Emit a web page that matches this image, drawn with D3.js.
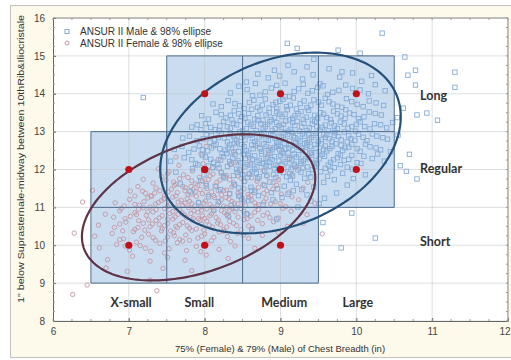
<!DOCTYPE html>
<html>
<head>
<meta charset="utf-8">
<script src="https://cdn.jsdelivr.net/npm/d3@7"></script>
<style>
  body { margin: 0; background: #fff; }
  svg { display: block; }
  .tick text { font-family: "Liberation Sans", Arial, sans-serif; font-size: 10px; fill: #444; }
  .axis path, .axis line { stroke: #666; }
</style>
</head>
<body>
<div id="chart"></div>
<script>
// axis ranges and tick values
const xTicks = [6, 7, 8, 9, 10, 11, 12];
const yTicks = [8, 9, 10, 11, 12, 13, 14, 15, 16];

// size grid (box edges) and red target points
const femaleSizeEdges = [6.5, 7.5, 8.5, 9.5];
const femaleLengthEdges = [9, 11, 13];
const maleSizeEdges = [7.5, 8.5, 9.5, 10.5];
const maleLengthEdges = [11, 13, 15];
const femaleTargets = [[7, 10], [8, 10], [9, 10], [7, 12], [8, 12], [9, 12]];
const maleTargets = [[8, 12], [9, 12], [10, 12], [8, 14], [9, 14], [10, 14]];

// size labels (column / row)
const sizeLabels = [
  { text: 'X-small', x: 7.03, y: 8.45 },
  { text: 'Small', x: 7.93, y: 8.45 },
  { text: 'Medium', x: 9.05, y: 8.45 },
  { text: 'Large', x: 10.02, y: 8.45 }
];
const lengthLabels = [
  { text: 'Long', x: 10.84, y: 13.93 },
  { text: 'Regular', x: 10.84, y: 12.0 },
  { text: 'Short', x: 10.84, y: 10.06 }
];

// 98% ellipses (mean, sd, correlation)
const maleEllipse = { mx: 9.0, my: 12.7, sx: 0.567, sy: 0.853, r: 0.29, level: 0.98 };
const femaleEllipse = { mx: 7.92, my: 11.0, sx: 0.55, sy: 0.69, r: 0.40, level: 0.98 };

// ANSUR II male sample (chest breadth, torso length), estimated from the scatter
const malePoints = [
  [8.62,10.41],[8.31,10.78],[8.95,10.69],[8.55,10.83],
  [7.92,11.12],[8.41,10.98],[8.77,11.07],[9.23,11.01],[8.58,11.18],[9.51,11.10],[8.12,10.94],
  [7.81,11.41],[8.05,11.28],[8.33,11.36],[8.49,11.22],[8.62,11.45],[8.71,11.31],[8.88,11.39],[9.02,11.26],[9.17,11.44],[9.35,11.33],[9.58,11.24],[8.21,11.47],[9.74,11.38],[8.96,11.49],
  [7.68,11.62],[7.95,11.71],[8.14,11.55],[8.27,11.78],[8.39,11.60],[8.52,11.69],[8.61,11.53],[8.70,11.76],[8.79,11.58],[8.86,11.67],[8.94,11.79],[9.05,11.56],[9.13,11.72],[9.21,11.61],[9.32,11.77],[9.44,11.54],[9.57,11.66],[9.71,11.73],[9.88,11.59],[8.45,11.51],[8.02,11.57],[9.96,11.76],
  [7.62,11.93],[7.84,12.02],[7.99,11.86],[8.11,12.05],[8.22,11.91],[8.30,12.08],[8.38,11.84],[8.46,11.98],[8.53,12.07],[8.59,11.88],[8.66,12.01],[8.72,11.81],[8.79,11.95],[8.85,12.09],[8.91,11.87],[8.97,12.03],[9.04,11.92],[9.10,12.06],[9.16,11.83],[9.23,11.99],[9.30,12.04],[9.37,11.89],[9.45,12.08],[9.53,11.94],[9.62,11.82],[9.71,12.05],[9.82,11.90],[9.95,12.01],[10.12,11.86],[8.03,11.97],[8.63,11.94],[9.19,12.09],
  [7.55,12.22],[7.73,12.31],[7.88,12.16],[7.97,12.38],[8.08,12.27],[8.17,12.13],[8.25,12.34],[8.33,12.21],[8.40,12.39],[8.47,12.18],[8.54,12.29],[8.60,12.12],[8.66,12.36],[8.72,12.24],[8.78,12.15],[8.83,12.33],[8.89,12.26],[8.94,12.11],[9.00,12.37],[9.06,12.20],[9.12,12.30],[9.18,12.14],[9.24,12.39],[9.30,12.23],[9.37,12.32],[9.44,12.17],[9.51,12.28],[9.58,12.35],[9.66,12.19],[9.75,12.31],[9.84,12.24],[9.94,12.37],[10.06,12.16],[10.21,12.29],[8.12,12.19],[8.51,12.40],[8.86,12.19],[9.09,12.27],[9.41,12.38],[9.63,12.12],[10.37,12.22],
  [7.60,12.53],[7.79,12.45],[7.93,12.62],[8.04,12.49],[8.15,12.66],[8.23,12.42],[8.31,12.57],[8.39,12.68],[8.45,12.47],[8.52,12.60],[8.58,12.43],[8.64,12.55],[8.70,12.69],[8.75,12.48],[8.81,12.61],[8.86,12.44],[8.92,12.58],[8.97,12.67],[9.02,12.46],[9.07,12.54],[9.13,12.65],[9.18,12.41],[9.24,12.59],[9.29,12.50],[9.35,12.64],[9.41,12.45],[9.47,12.56],[9.54,12.68],[9.61,12.49],[9.68,12.61],[9.76,12.42],[9.85,12.57],[9.94,12.66],[10.05,12.48],[10.18,12.60],[10.32,12.52],[8.09,12.57],[8.35,12.46],[8.67,12.63],[8.89,12.52],[9.10,12.44],[9.32,12.68],[9.57,12.53],[9.80,12.64],[7.86,12.54],[9.00,12.61],[10.45,12.47],
  [7.71,12.83],[7.90,12.76],[8.02,12.92],[8.13,12.79],[8.22,12.96],[8.30,12.73],[8.38,12.88],[8.46,12.99],[8.53,12.78],[8.60,12.91],[8.66,12.74],[8.72,12.86],[8.78,12.98],[8.84,12.77],[8.90,12.90],[8.95,12.72],[9.01,12.85],[9.06,12.97],[9.12,12.75],[9.17,12.89],[9.23,12.80],[9.29,12.94],[9.35,12.71],[9.41,12.84],[9.47,12.96],[9.54,12.79],[9.61,12.92],[9.68,12.74],[9.76,12.87],[9.84,12.99],[9.93,12.81],[10.03,12.93],[10.14,12.76],[10.27,12.88],[10.41,12.80],[8.18,12.84],[8.42,12.76],[8.69,12.95],[8.93,12.82],[9.15,12.98],[9.38,12.78],[9.59,12.85],[9.88,12.73],[8.07,12.72],[9.20,12.71],[9.72,12.97],[10.55,12.91],
  [7.83,13.12],[8.01,13.21],[8.14,13.05],[8.25,13.27],[8.34,13.09],[8.42,13.18],[8.50,13.02],[8.57,13.25],[8.64,13.14],[8.70,13.29],[8.77,13.07],[8.83,13.19],[8.89,13.03],[8.95,13.24],[9.01,13.11],[9.07,13.28],[9.13,13.06],[9.19,13.16],[9.25,13.01],[9.31,13.22],[9.38,13.10],[9.45,13.27],[9.52,13.04],[9.59,13.17],[9.67,13.23],[9.75,13.08],[9.84,13.20],[9.94,13.13],[10.05,13.26],[10.18,13.07],[10.32,13.18],[8.20,13.15],[8.47,13.29],[8.74,13.21],[8.98,13.16],[9.22,13.27],[9.48,13.13],[9.71,13.02],[9.99,13.01],[7.95,13.05],[10.48,13.24],
  [7.96,13.42],[8.15,13.51],[8.28,13.36],[8.39,13.55],[8.49,13.39],[8.58,13.48],[8.66,13.33],[8.73,13.57],[8.81,13.44],[8.88,13.31],[8.95,13.53],[9.02,13.40],[9.09,13.58],[9.16,13.35],[9.23,13.47],[9.30,13.32],[9.37,13.56],[9.45,13.43],[9.53,13.50],[9.61,13.37],[9.70,13.54],[9.80,13.41],[9.91,13.49],[10.03,13.34],[10.17,13.52],[10.33,13.44],[8.62,13.59],[9.06,13.46],[9.42,13.31],[9.86,13.58],[8.34,13.43],[10.54,13.37],
  [8.11,13.73],[8.31,13.82],[8.46,13.68],[8.59,13.77],[8.70,13.64],[8.80,13.86],[8.90,13.71],[8.99,13.80],[9.08,13.66],[9.17,13.89],[9.26,13.74],[9.35,13.63],[9.44,13.84],[9.54,13.70],[9.64,13.79],[9.75,13.67],[9.87,13.87],[10.01,13.72],[10.17,13.81],[10.36,13.69],[8.95,13.61],[9.59,13.88],
  [8.34,14.02],[8.56,14.11],[8.73,13.96],[8.88,14.15],[9.00,14.04],[9.12,13.93],[9.24,14.13],[9.36,14.01],[9.49,14.17],[9.62,13.98],[9.77,14.09],[9.95,14.14],[10.16,14.00],[10.38,14.08],
  [8.55,14.31],[8.84,14.42],[9.06,14.28],[9.29,14.39],[9.52,14.26],[9.78,14.44],[10.07,14.33],
  [8.92,14.62],[9.35,14.71],[9.81,14.58],[9.44,14.91],
  // denser core
  [8.25,11.83],[8.43,11.92],[8.57,11.79],[8.68,11.90],[8.82,11.85],[8.99,11.96],[9.08,11.81],[9.27,11.93],[9.40,11.80],[9.66,11.97],[9.12,11.89],[8.50,11.86],
  [7.91,12.12],[8.19,12.04],[8.35,12.15],[8.42,12.01],[8.56,12.13],[8.69,12.06],[8.76,12.17],[8.92,12.02],[9.02,12.14],[9.14,12.01],[9.27,12.16],[9.35,12.07],[9.48,12.15],[9.59,12.03],[9.79,12.13],[9.88,12.06],[10.01,12.18],[8.05,12.09],[8.81,12.10],[9.42,12.00],
  [7.83,12.26],[8.01,12.33],[8.21,12.25],[8.37,12.30],[8.44,12.23],[8.57,12.37],[8.63,12.27],[8.75,12.41],[8.81,12.29],[8.92,12.34],[8.98,12.22],[9.04,12.42],[9.15,12.25],[9.21,12.33],[9.33,12.28],[9.39,12.43],[9.47,12.24],[9.55,12.40],[9.70,12.26],[9.79,12.38],[9.90,12.27],[10.10,12.35],[10.28,12.41],[8.29,12.42],[8.69,12.20],[9.27,12.21],
  [7.70,12.61],[7.97,12.52],[8.12,12.63],[8.27,12.51],[8.41,12.59],[8.49,12.66],[8.55,12.50],[8.62,12.65],[8.73,12.55],[8.78,12.67],[8.84,12.51],[8.95,12.62],[9.05,12.69],[9.11,12.57],[9.16,12.51],[9.21,12.64],[9.27,12.57],[9.33,12.47],[9.39,12.61],[9.45,12.66],[9.51,12.47],[9.59,12.62],[9.65,12.55],[9.73,12.68],[9.82,12.50],[9.90,12.59],[10.01,12.55],[10.12,12.67],[10.26,12.57],[8.20,12.55],[8.33,12.65],[8.99,12.52],
  [7.80,12.88],[7.98,12.81],[8.09,12.90],[8.26,12.83],[8.34,12.93],[8.49,12.85],[8.56,12.94],[8.63,12.82],[8.75,12.91],[8.81,12.80],[8.87,12.94],[8.98,12.88],[9.04,12.79],[9.09,12.92],[9.19,12.84],[9.26,12.75],[9.32,12.88],[9.44,12.90],[9.50,12.74],[9.57,12.93],[9.64,12.81],[9.71,12.90],[9.80,12.78],[9.90,12.89],[9.98,12.77],[10.09,12.85],[10.21,12.94],[10.35,12.84],[8.40,12.80],[9.37,12.94],
  [7.90,13.18],[8.08,13.11],[8.19,13.02],[8.30,13.13],[8.38,13.22],[8.55,13.08],[8.61,13.19],[8.68,13.03],[8.80,13.13],[8.86,13.26],[8.93,13.08],[9.04,13.19],[9.10,13.01],[9.16,13.24],[9.28,13.12],[9.35,13.03],[9.42,13.20],[9.55,13.11],[9.63,13.02],[9.71,13.15],[9.79,13.25],[9.89,13.09],[10.00,13.19],[10.11,13.13],[10.24,13.21],[10.40,13.10],
  [8.05,13.33],[8.22,13.45],[8.36,13.31],[8.45,13.47],[8.53,13.35],[8.70,13.42],[8.77,13.30],[8.85,13.50],[8.92,13.37],[8.99,13.46],[9.12,13.31],[9.19,13.42],[9.27,13.53],[9.34,13.38],[9.49,13.36],[9.57,13.46],[9.66,13.32],[9.75,13.47],[9.85,13.35],[9.97,13.45],[10.10,13.39],[10.25,13.48],
  [8.22,13.66],[8.40,13.74],[8.52,13.61],[8.65,13.83],[8.76,13.70],[8.85,13.62],[8.94,13.77],[9.03,13.85],[9.13,13.70],[9.21,13.60],[9.31,13.81],[9.40,13.70],[9.50,13.78],[9.69,13.73],[9.81,13.64],[9.94,13.79],[10.09,13.66],[10.26,13.76],
  [8.45,14.20],[8.63,13.95],[8.80,14.05],[8.95,14.22],[9.06,13.92],[9.18,14.06],[9.30,14.25],[9.42,14.08],[9.56,14.21],[9.69,14.04],[9.86,14.23],[10.05,14.10],[10.25,14.24],[8.67,14.27],
  [8.70,14.52],[8.99,14.47],[9.18,14.58],[9.43,14.50],[9.64,14.66],[9.95,14.55],[10.20,14.48],[9.10,14.75],
  [8.18,11.15],[8.45,11.30],[8.90,11.20],[9.10,11.35],[9.40,11.17],[8.66,11.40],[9.28,11.47],[8.35,11.05],
  // scattered outliers
  [10.34,15.60],[9.09,15.33],[9.22,15.20],[9.76,15.15],[10.05,15.07],[10.64,14.97],[10.78,14.62],[11.30,14.57],
  [11.30,14.17],[10.78,14.23],[10.68,14.49],[10.80,13.44],[10.93,13.49],[11.07,13.30],[10.62,13.62],[7.19,13.90],
  [10.25,10.19],[9.80,9.93],[10.80,11.75],[9.94,10.85],[9.56,10.60],[10.58,12.10],[10.70,12.40],[10.66,11.95]
];

// ANSUR II female sample, estimated from the scatter
const femalePoints = [
  [7.28,9.08],[6.98,9.31],[7.45,9.39],[7.83,9.33],
  [6.72,9.62],[7.05,9.71],[7.28,9.58],[7.51,9.68],[7.74,9.60],[8.02,9.74],[8.31,9.65],
  [6.61,9.93],[6.84,10.02],[7.01,9.87],[7.15,9.99],[7.29,9.84],[7.41,10.05],[7.53,9.91],[7.64,10.07],[7.76,9.86],[7.89,9.97],[8.03,10.04],[8.19,9.89],[8.40,9.98],[8.66,9.92],
  [6.55,10.24],[6.78,10.31],[6.93,10.17],[7.06,10.36],[7.17,10.21],[7.26,10.29],[7.35,10.13],[7.43,10.38],[7.51,10.22],[7.59,10.33],[7.67,10.15],[7.75,10.27],[7.83,10.39],[7.91,10.19],[8.00,10.30],[8.09,10.12],[8.19,10.35],[8.30,10.23],[8.43,10.31],[8.58,10.18],[8.76,10.26],[8.97,10.34],[7.21,10.40],[7.71,10.11],[8.25,10.37],
  [6.60,10.53],[6.81,10.47],[6.96,10.61],[7.08,10.42],[7.19,10.58],[7.28,10.49],[7.36,10.66],[7.44,10.44],[7.51,10.57],[7.58,10.69],[7.64,10.46],[7.71,10.60],[7.77,10.51],[7.83,10.67],[7.89,10.43],[7.96,10.56],[8.03,10.64],[8.10,10.48],[8.17,10.59],[8.25,10.41],[8.33,10.63],[8.42,10.52],[8.52,10.68],[8.63,10.45],[8.76,10.57],[8.91,10.62],[9.09,10.50],[7.13,10.65],[7.47,10.52],[7.92,10.70],[8.21,10.54],[8.48,10.41],[6.88,10.56],[7.67,10.55],[8.70,10.66],[9.30,10.58],
  [6.69,10.82],[6.88,10.91],[7.02,10.76],[7.13,10.95],[7.23,10.79],[7.32,10.88],[7.40,10.72],[7.47,10.97],[7.54,10.84],[7.61,10.75],[7.67,10.93],[7.73,10.80],[7.79,10.99],[7.85,10.71],[7.91,10.87],[7.97,10.78],[8.03,10.96],[8.09,10.83],[8.15,10.73],[8.22,10.92],[8.29,10.81],[8.36,10.98],[8.44,10.74],[8.52,10.89],[8.61,10.77],[8.71,10.94],[8.83,10.85],[8.97,10.72],[9.14,10.90],[9.35,10.81],[7.08,10.86],[7.36,10.94],[7.58,10.89],[7.82,10.84],[8.00,10.71],[8.26,10.86],[8.48,10.97],[8.77,10.79],[6.80,10.74],[7.19,10.99],[7.70,10.86],[8.12,10.90],[8.57,10.82],[9.03,10.97],
  [6.82,11.12],[7.01,11.21],[7.14,11.06],[7.25,11.25],[7.35,11.09],[7.43,11.18],[7.51,11.02],[7.58,11.27],[7.65,11.14],[7.71,11.05],[7.77,11.23],[7.83,11.10],[7.89,11.29],[7.95,11.01],[8.01,11.17],[8.07,11.08],[8.13,11.26],[8.19,11.13],[8.25,11.03],[8.32,11.22],[8.39,11.11],[8.46,11.28],[8.54,11.04],[8.62,11.19],[8.71,11.07],[8.81,11.24],[8.93,11.15],[9.07,11.02],[9.24,11.20],[9.45,11.11],[7.20,11.15],[7.47,11.24],[7.69,11.19],[7.92,11.14],[8.10,11.01],[8.36,11.16],[8.58,11.27],[8.87,11.09],[6.94,11.04],[7.30,11.29],[7.80,11.16],[8.22,11.20],[8.66,11.12],[9.15,11.28],
  [7.02,11.43],[7.22,11.37],[7.36,11.51],[7.47,11.32],[7.56,11.48],[7.64,11.39],[7.71,11.56],[7.78,11.34],[7.85,11.47],[7.91,11.59],[7.97,11.36],[8.03,11.50],[8.09,11.41],[8.15,11.57],[8.22,11.33],[8.29,11.46],[8.36,11.54],[8.44,11.38],[8.52,11.49],[8.61,11.31],[8.71,11.53],[8.82,11.44],[8.95,11.58],[9.11,11.40],[9.30,11.51],[7.12,11.55],[7.41,11.44],[7.60,11.58],[7.88,11.42],[8.12,11.31],[8.40,11.59],[8.66,11.45],[7.29,11.31],[7.75,11.52],[8.25,11.44],[9.01,11.35],
  [7.19,11.74],[7.43,11.81],[7.59,11.67],[7.72,11.86],[7.83,11.70],[7.93,11.79],[8.02,11.63],[8.11,11.88],[8.20,11.72],[8.29,11.84],[8.38,11.65],[8.48,11.77],[8.58,11.89],[8.69,11.69],[8.82,11.82],[8.97,11.73],[9.15,11.87],[9.36,11.66],[7.51,11.89],[7.88,11.62],[8.25,11.79],[8.53,11.68],[7.67,11.76],[8.07,11.83],[8.77,11.61],
  [7.39,12.02],[7.66,12.11],[7.84,11.96],[7.98,12.15],[8.10,12.04],[8.22,11.93],[8.34,12.13],[8.47,12.01],[8.61,12.17],[8.77,11.98],[8.96,12.09],[9.21,12.06],[7.53,11.94],[8.41,12.19],
  [7.62,12.33],[7.95,12.41],[8.18,12.27],[8.38,12.46],[8.59,12.31],[8.84,12.39],[9.12,12.28],
  [8.02,12.61],[8.43,12.72],[8.86,12.58],[8.51,12.89],
  // denser core
  [7.12,10.47],[7.31,10.56],[7.55,10.38],[7.62,10.50],[7.80,10.45],[7.99,10.40],[8.06,10.53],[8.29,10.48],[8.38,10.58],[8.58,10.51],[6.92,10.38],[7.40,10.55],
  [6.95,10.70],[7.10,10.81],[7.26,10.67],[7.44,10.78],[7.51,10.68],[7.65,10.82],[7.76,10.73],[7.94,10.66],[8.07,10.78],[8.18,10.66],[8.32,10.75],[8.40,10.88],[8.56,10.70],[8.66,10.87],[8.86,10.73],[7.86,10.91],[7.25,10.88],
  [6.90,10.97],[7.08,11.08],[7.28,11.01],[7.39,11.13],[7.55,11.09],[7.62,11.00],[7.74,11.11],[7.87,11.04],[7.99,11.11],[8.17,11.07],[8.29,11.00],[8.44,11.09],[8.51,11.17],[8.68,11.03],[8.78,11.14],[9.00,11.10],[7.96,10.93],[8.33,10.93],
  [7.08,11.30],[7.18,11.43],[7.34,11.38],[7.52,11.41],[7.62,11.30],[7.74,11.44],[7.83,11.35],[7.94,11.47],[8.05,11.33],[8.18,11.44],[8.33,11.36],[8.47,11.43],[8.57,11.34],[8.78,11.37],[8.90,11.48],[7.46,11.22],[8.28,11.26],
  [7.32,11.64],[7.49,11.72],[7.62,11.61],[7.78,11.79],[7.97,11.69],[8.16,11.66],[8.33,11.73],[8.44,11.83],[8.62,11.78],[8.90,11.65],[7.82,11.55],[8.05,11.74],
  [6.88,10.15],[7.10,10.08],[7.32,10.20],[7.48,10.11],[7.60,10.25],[7.80,10.13],[7.96,10.24],[8.12,10.21],[8.34,10.10],[8.51,10.27],[7.22,9.92],[7.47,9.80],[7.95,9.83],[6.95,9.98],
  // scattered outliers
  [6.26,8.70],[6.45,8.95],[7.37,8.80],[6.39,11.14],[6.28,10.32],[6.52,11.45],[9.55,10.30],[6.70,9.40]
];

const W = 511, H = 360;
const plotLeft = 53, plotRight = 508, plotTop = 18, plotBottom = 321;

const svg = d3.select('#chart').append('svg')
  .attr('width', W)
  .attr('height', H)
  .attr('font-family', '"Liberation Sans", Arial, sans-serif');

// beige panel
svg.append('rect')
  .attr('x', 10.5).attr('y', 5.5)
  .attr('width', W + 10).attr('height', 352)
  .attr('fill', '#fdf9eb')
  .attr('stroke', '#c2c2c2');

const x = d3.scaleLinear().domain([6, 12]).range([plotLeft, plotRight]);
const y = d3.scaleLinear().domain([8, 16]).range([plotBottom, plotTop]);

svg.append('clipPath').attr('id', 'plotclip')
  .append('rect')
  .attr('x', plotLeft).attr('y', plotTop)
  .attr('width', plotRight - plotLeft).attr('height', plotBottom - plotTop);

svg.append('rect')
  .attr('x', plotLeft).attr('y', plotTop)
  .attr('width', plotRight - plotLeft).attr('height', plotBottom - plotTop)
  .attr('fill', '#fff');

const plot = svg.append('g').attr('clip-path', 'url(#plotclip)');

// box fills
const grids = [
  { sx: femaleSizeEdges, ly: femaleLengthEdges },
  { sx: maleSizeEdges, ly: maleLengthEdges }
];
grids.forEach(g => {
  plot.append('rect')
    .attr('x', x(g.sx[0]))
    .attr('y', y(g.ly[g.ly.length - 1]))
    .attr('width', x(g.sx[g.sx.length - 1]) - x(g.sx[0]))
    .attr('height', y(g.ly[0]) - y(g.ly[g.ly.length - 1]))
    .attr('fill', '#c9dcf0');
});

// gridlines
plot.selectAll('line.gx').data(xTicks).enter().append('line')
  .attr('x1', d => x(d)).attr('x2', d => x(d))
  .attr('y1', plotTop).attr('y2', plotBottom)
  .attr('stroke', '#bfc4c9').attr('stroke-opacity', 0.55);
plot.selectAll('line.gy').data(yTicks).enter().append('line')
  .attr('y1', d => y(d)).attr('y2', d => y(d))
  .attr('x1', plotLeft).attr('x2', plotRight)
  .attr('stroke', '#bfc4c9').attr('stroke-opacity', 0.55);

// female circles
plot.selectAll('circle.f').data(femalePoints).enter().append('circle')
  .attr('cx', d => x(d[0])).attr('cy', d => y(d[1]))
  .attr('r', 2.2)
  .attr('fill', 'none')
  .attr('stroke', '#c497a4')
  .attr('stroke-width', 0.9);

// male squares
plot.selectAll('rect.m').data(malePoints).enter().append('rect')
  .attr('x', d => x(d[0]) - 2.2).attr('y', d => y(d[1]) - 2.2)
  .attr('width', 4.4).attr('height', 4.4)
  .attr('fill', 'none')
  .attr('stroke', '#86acd6')
  .attr('stroke-width', 0.9);

// box outlines
grids.forEach(g => {
  const y0 = g.ly[0], y1 = g.ly[g.ly.length - 1];
  const x0 = g.sx[0], x1 = g.sx[g.sx.length - 1];
  g.sx.forEach(v => {
    plot.append('line')
      .attr('x1', x(v)).attr('x2', x(v))
      .attr('y1', y(y0)).attr('y2', y(y1))
      .attr('stroke', '#4f6d8e').attr('stroke-width', 1);
  });
  g.ly.forEach(v => {
    plot.append('line')
      .attr('y1', y(v)).attr('y2', y(v))
      .attr('x1', x(x0)).attr('x2', x(x1))
      .attr('stroke', '#4f6d8e').attr('stroke-width', 1);
  });
});

// 98% ellipses
function ellipsePath(e) {
  const k = Math.sqrt(-2 * Math.log(1 - e.level));
  const pts = d3.range(0, 361, 2).map(a => {
    const t = a * Math.PI / 180;
    const u = Math.cos(t), v = Math.sin(t);
    const dx = e.sx * u;
    const dy = e.sy * (e.r * u + Math.sqrt(1 - e.r * e.r) * v);
    return [x(e.mx + k * dx), y(e.my + k * dy)];
  });
  return d3.line().curve(d3.curveLinearClosed)(pts);
}
plot.append('path').attr('d', ellipsePath(femaleEllipse))
  .attr('fill', 'none').attr('stroke', '#5e3346').attr('stroke-width', 2.2);
plot.append('path').attr('d', ellipsePath(maleEllipse))
  .attr('fill', 'none').attr('stroke', '#234f78').attr('stroke-width', 2.2);

// red target points
plot.selectAll('circle.t').data(femaleTargets.concat(maleTargets)).enter().append('circle')
  .attr('cx', d => x(d[0])).attr('cy', d => y(d[1]))
  .attr('r', 3.6)
  .attr('fill', '#c0111a');

// size / length labels
const lab = svg.append('g')
  .attr('font-family', 'Lato, "Open Sans", sans-serif')
  .attr('font-weight', 'bold')
  .attr('font-size', '12.5px')
  .attr('fill', '#333');
lab.selectAll('text.s').data(sizeLabels).enter().append('text')
  .attr('x', d => x(d.x)).attr('y', d => y(d.y))
  .attr('text-anchor', 'middle').attr('dominant-baseline', 'middle')
  .text(d => d.text);
lab.selectAll('text.l').data(lengthLabels).enter().append('text')
  .attr('x', d => x(d.x)).attr('y', d => y(d.y))
  .attr('text-anchor', 'start').attr('dominant-baseline', 'middle')
  .text(d => d.text);

// axes
const xAxisG = svg.append('g').attr('class', 'axis')
  .attr('transform', `translate(0,${plotBottom})`)
  .call(d3.axisBottom(x).tickValues(xTicks).tickSize(-3).tickPadding(7).tickFormat(d3.format('d')));
// last label sits at the window edge: keep it inside
xAxisG.selectAll('.tick text').filter(d => d === xTicks[xTicks.length - 1])
  .attr('text-anchor', 'end').attr('dx', '2px');
svg.append('g').attr('class', 'axis')
  .attr('transform', `translate(${plotLeft},0)`)
  .call(d3.axisLeft(y).tickValues(yTicks).tickSize(-3).tickPadding(8).tickFormat(d3.format('d')));

// frame top / right + minor ticks
svg.append('line').attr('x1', plotLeft).attr('x2', plotRight).attr('y1', plotTop).attr('y2', plotTop)
  .attr('stroke', '#888');
svg.append('line').attr('x1', plotRight).attr('x2', plotRight).attr('y1', plotTop).attr('y2', plotBottom)
  .attr('stroke', '#888');
const minorX = d3.range(6, 12.001, 0.25);
const minorY = d3.range(8, 16.001, 0.25);
const mt = svg.append('g').attr('stroke', '#999').attr('stroke-width', 1);
minorX.forEach(v => {
  mt.append('line').attr('x1', x(v)).attr('x2', x(v)).attr('y1', plotTop).attr('y2', plotTop + 2);
  mt.append('line').attr('x1', x(v)).attr('x2', x(v)).attr('y1', plotBottom).attr('y2', plotBottom - 2);
});
minorY.forEach(v => {
  mt.append('line').attr('y1', y(v)).attr('y2', y(v)).attr('x1', plotLeft).attr('x2', plotLeft + 2);
  mt.append('line').attr('y1', y(v)).attr('y2', y(v)).attr('x1', plotRight).attr('x2', plotRight - 2);
});

// axis titles
svg.append('text')
  .attr('x', 280).attr('y', 352)
  .attr('text-anchor', 'middle')
  .attr('font-size', '9.5px').attr('fill', '#333')
  .text('75% (Female) & 79% (Male) of Chest Breadth (in)');
svg.append('text')
  .attr('transform', 'translate(24,159) rotate(-90)')
  .attr('text-anchor', 'middle')
  .attr('font-size', '9.5px').attr('fill', '#333')
  .attr('textLength', 288).attr('lengthAdjust', 'spacingAndGlyphs')
  .text('1" below Suprasternale-midway between 10thRib&Iliocristale');

// legend
const legend = svg.append('g').attr('font-size', '10px').attr('fill', '#333');
legend.append('rect').attr('x', 65).attr('y', 29.5).attr('width', 4).attr('height', 4)
  .attr('fill', 'none').attr('stroke', '#86acd6');
legend.append('circle').attr('cx', 67).attr('cy', 43).attr('r', 2)
  .attr('fill', 'none').attr('stroke', '#c497a4');
legend.append('text').attr('x', 80).attr('y', 35).text('ANSUR II Male & 98% ellipse');
legend.append('text').attr('x', 80).attr('y', 46.5).text('ANSUR II Female & 98% ellipse');
</script>
</body>
</html>
